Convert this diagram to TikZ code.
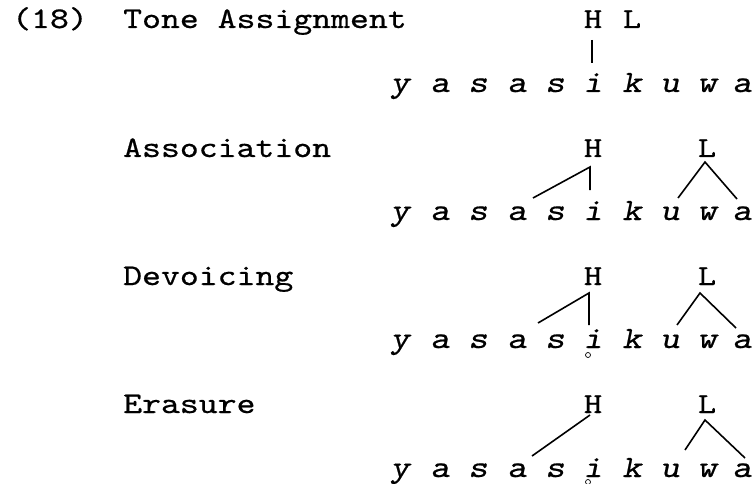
\documentclass[tikz,border=0pt]{standalone}
\usepackage{fontspec}
\setmonofont{lmmono10-regular.otf}[ItalicFont=lmmonoslant10-regular.otf, FakeStretch=1.2, FakeBold=0.6]
\begin{document}
\begin{tikzpicture}[x=1pt,y=-1pt,
  lbl/.style={anchor=base west,inner sep=0pt,font=\fontsize{30}{36}\selectfont\ttfamily},
  tone/.style={anchor=base,inner sep=0pt,font=\fontsize{29}{36}\selectfont\ttfamily},
  seg/.style={anchor=base,inner sep=0pt,font=\fontsize{31}{36}\selectfont\ttfamily\itshape},
  assoc/.style={line width=1.6pt},
  ring/.style={circle,draw,inner sep=0pt,minimum size=5pt,line width=0.7pt}]
\useasboundingbox (0,0) rectangle (755,484);
% labels
\node[lbl] (num) at (12,28) {(18)};
\node[lbl] (l1) at (123,28) {Tone Assignment};
\node[lbl] (l2) at (123,157) {Association};
\node[lbl] (l3) at (123,285) {Devoicing};
\node[lbl] (l4) at (123,413) {Erasure};
% segment rows
\foreach \r/\yb in {1/92,2/220,3/348,4/477}{
  \foreach \c/\x [count=\k] in {y/400,a/440,s/478,a/517,s/555,i/593,k/632,u/670,w/707,a/742}{
    \node[seg] (s\r-\k) at (\x,\yb) {\c};
  }
}
% tones
\node[tone] (H1) at (593,28) {H};
\node[tone] (L1) at (632,28) {L};
\node[tone] (H2) at (593,157) {H};
\node[tone] (L2) at (707,157) {L};
\node[tone] (H3) at (593,285) {H};
\node[tone] (L3) at (707,285) {L};
\node[tone] (H4) at (593,413) {H};
\node[tone] (L4) at (707,413) {L};
% row 1
\coordinate (h1) at (592,40);
\coordinate (i1) at (592,63);
\draw[assoc] (h1) -- (i1);
% row 2
\coordinate (h2) at (590,167);
\coordinate (i2) at (590,190);
\coordinate (a2) at (533,198);
\coordinate (lt2) at (705,162);
\coordinate (u2) at (678,198);
\coordinate (w2) at (737,199);
\draw[assoc] (a2) -- (h2) -- (i2);
\draw[assoc] (u2) -- (lt2) -- (w2);
% row 3
\coordinate (h3) at (589,293);
\coordinate (i3) at (589,325);
\coordinate (a3) at (538,323);
\coordinate (lt3) at (700,293);
\coordinate (u3) at (677,325);
\coordinate (w3) at (736,328);
\draw[assoc] (a3) -- (h3) -- (i3);
\draw[assoc] (u3) -- (lt3) -- (w3);
\node[ring] (r3) at (588,355) {};
% row 4
\coordinate (h4) at (590,415);
\coordinate (a4) at (532,456);
\coordinate (lt4) at (705,420);
\coordinate (u4) at (685,450);
\coordinate (w4) at (745,458);
\draw[assoc] (h4) -- (a4);
\draw[assoc] (u4) -- (lt4) -- (w4);
\node[ring] (r4) at (588,482) {};
\end{tikzpicture}
\end{document}
